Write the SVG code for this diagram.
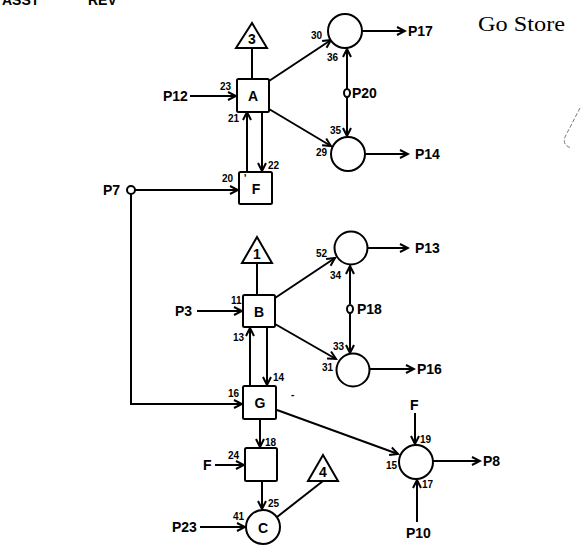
<svg xmlns="http://www.w3.org/2000/svg" width="581" height="556" viewBox="0 0 581 556">
<style>
.ln{stroke:#000;stroke-width:2;fill:none}
.ar{stroke:#000;stroke-width:2;fill:none;marker-end:url(#ah)}
.nd{stroke:#000;stroke-width:2;fill:#fff}
.lb{font-family:"Liberation Sans",Arial,sans-serif;font-weight:bold;font-size:14px;fill:#000}
.nm{font-family:"Liberation Sans",Arial,sans-serif;font-weight:bold;font-size:10px;fill:#000}
.big{font-family:"Liberation Sans",Arial,sans-serif;font-weight:bold;font-size:14px;fill:#000;text-anchor:middle;dominant-baseline:central}
</style>
<defs>
<marker id="ah" markerUnits="userSpaceOnUse" markerWidth="12" markerHeight="12" refX="10" refY="6" orient="auto">
<path d="M2,2 L10,6 L2,10" stroke="#000" stroke-width="2" fill="none"/>
</marker>
</defs>
<rect width="581" height="556" fill="#fff"/>
<text x="2" y="5" class="lb">ASST</text>
<text x="88" y="5" class="lb">REV</text>
<text x="478" y="31" font-family="Liberation Serif,serif" font-size="22" textLength="87" lengthAdjust="spacingAndGlyphs">Go Store</text>
<path d="M580,108 L565,137 Q562,146 572,148" stroke="#777" stroke-width="1" stroke-dasharray="4,2" fill="none"/>

<g id="connectors">
<path class="ar" d="M190,96 L236,96"/>
<path class="ar" d="M269,81 L331,40"/>
<path class="ar" d="M269,109 L331,146"/>
<path class="ar" d="M362,31 L405,31"/>
<path class="ar" d="M365,154 L408,154"/>
<path class="ar" d="M347,89 L347,49"/>
<path class="ar" d="M347,97 L347,136"/>
<path class="ln" d="M252,48 L252,79"/>
<path class="ar" d="M247,172 L247,112"/>
<path class="ar" d="M262,112 L262,171"/>
<path class="ar" d="M135,190 L238,190"/>
<path class="ar" d="M131,194 L131,404 L242,404"/>
<path class="ln" d="M257,263 L257,295"/>
<path class="ar" d="M197,311 L242,311"/>
<path class="ar" d="M275,298 L335,258"/>
<path class="ar" d="M275,324 L336,359"/>
<path class="ar" d="M367,248 L408,248"/>
<path class="ar" d="M350,304 L350,266"/>
<path class="ar" d="M350,313 L350,353"/>
<path class="ar" d="M370,369 L414,369"/>
<path class="ar" d="M250,386 L250,328"/>
<path class="ar" d="M267,328 L267,385"/>
<path class="ar" d="M260,419 L260,447"/>
<path class="ar" d="M215,465 L244,465"/>
<path class="ar" d="M262,481 L262,509"/>
<path class="ar" d="M200,527 L245,527"/>
<path class="ln" d="M277,517 L323,481"/>
<path class="ar" d="M277,410 L398,454"/>
<path class="ar" d="M415,413 L415,444"/>
<path class="ar" d="M417,522 L417,480"/>
<path class="ar" d="M433,461 L480,461"/>
</g>

<g id="tri3"><path class="nd" d="M252,23 L236,48 L267,48 Z"/><text x="252" y="39" class="big">3</text></g>
<g id="A"><rect class="nd" x="237" y="79" width="32" height="33" rx="1.5"/><text x="253" y="96" class="big">A</text></g>
<g id="F1"><rect class="nd" x="239" y="172" width="33" height="32" rx="1.5"/><text x="256" y="189" class="big">F</text><text x="244" y="182" class="nm">'</text></g>
<g id="p30"><circle class="nd" cx="345" cy="31" r="17"/></g>
<g id="p29"><circle class="nd" cx="348" cy="154" r="17"/></g>
<g id="P20"><ellipse class="nd" cx="347" cy="93" rx="3" ry="4"/></g>
<g id="P7"><circle class="nd" cx="131" cy="190" r="4"/></g>
<g id="tri1"><path class="nd" d="M257,237 L242,263 L272,263 Z"/><text x="257" y="254" class="big">1</text></g>
<g id="B"><rect class="nd" x="243" y="295" width="32" height="32" rx="1.5"/><text x="259" y="312" class="big">B</text></g>
<g id="p52"><circle class="nd" cx="351" cy="248" r="16.5"/></g>
<g id="p31"><circle class="nd" cx="353" cy="370" r="16.5"/></g>
<g id="P18"><ellipse class="nd" cx="350" cy="309" rx="3" ry="4"/></g>
<g id="G"><rect class="nd" x="243" y="386" width="33" height="33" rx="1.5"/><text x="260" y="403" class="big">G</text></g>
<g id="box24"><rect class="nd" x="245" y="448" width="32" height="33" rx="1.5"/></g>
<g id="C"><circle class="nd" cx="263" cy="527" r="17"/><text x="263" y="528" class="big">C</text></g>
<g id="tri4"><path class="nd" d="M323,455 L308,481 L338,481 Z"/><text x="323" y="472" class="big">4</text></g>
<g id="p15"><circle class="nd" cx="416" cy="462" r="17"/></g>

<g id="labels">
<text x="163" y="101" class="lb">P12</text>
<text x="408" y="36" class="lb">P17</text>
<text x="415" y="159" class="lb">P14</text>
<text x="352" y="98" class="lb">P20</text>
<text x="103" y="195" class="lb">P7</text>
<text x="175" y="316" class="lb">P3</text>
<text x="415" y="253" class="lb">P13</text>
<text x="357" y="314" class="lb">P18</text>
<text x="417" y="374" class="lb">P16</text>
<text x="203" y="470" class="lb">F</text>
<text x="172" y="532" class="lb">P23</text>
<text x="410" y="410" class="lb">F</text>
<text x="483" y="466" class="lb">P8</text>
<text x="406" y="538" class="lb">P10</text>
<text x="220" y="90" class="nm">23</text>
<text x="228" y="122" class="nm">21</text>
<text x="268" y="169" class="nm">22</text>
<text x="222" y="182" class="nm">20</text>
<text x="311" y="39" class="nm">30</text>
<text x="327" y="61" class="nm">36</text>
<text x="330" y="134" class="nm">35</text>
<text x="316" y="156" class="nm">29</text>
<text x="231" y="304" class="nm">11</text>
<text x="233" y="341" class="nm">13</text>
<text x="273" y="381" class="nm">14</text>
<text x="228" y="397" class="nm">16</text>
<text x="316" y="257" class="nm">52</text>
<text x="330" y="279" class="nm">34</text>
<text x="333" y="350" class="nm">33</text>
<text x="322" y="371" class="nm">31</text>
<text x="265" y="446" class="nm">18</text>
<text x="228" y="459" class="nm">24</text>
<text x="268" y="507" class="nm">25</text>
<text x="233" y="520" class="nm">41</text>
<text x="420" y="443" class="nm">19</text>
<text x="386" y="469" class="nm">15</text>
<text x="422" y="488" class="nm">17</text>
<text x="291" y="398" class="nm">-</text>
</g>
</svg>
